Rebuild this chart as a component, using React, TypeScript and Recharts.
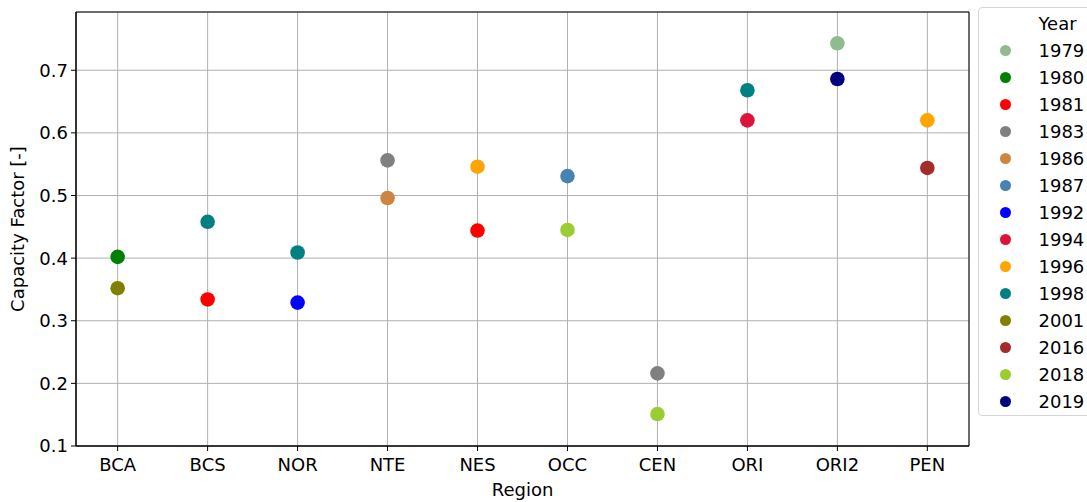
import React from "react";
import {
  ScatterChart, Scatter, XAxis, YAxis, CartesianGrid, Legend, ReferenceArea,
} from "recharts";

const REGIONS = ["BCA", "BCS", "NOR", "NTE", "NES", "OCC", "CEN", "ORI", "ORI2", "PEN"];
const YEARS = [1979, 1980, 1981, 1983, 1986, 1987, 1992, 1994, 1996, 1998, 2001, 2016, 2018, 2019];
const YEAR_COLORS = [
  "#8fbc8f", "#008000", "#ff0000", "#808080", "#cd853f", "#4682b4", "#0000ff",
  "#dc143c", "#ffa500", "#008080", "#808000", "#a52a2a", "#9acd32", "#000080",
];

// one entry per dot
const POINT_REGIONS = [
  "BCA", "BCA", "BCS", "BCS", "NOR", "NOR", "NTE", "NTE", "NES", "NES",
  "OCC", "OCC", "CEN", "CEN", "ORI", "ORI", "ORI2", "ORI2", "PEN", "PEN",
];
const POINT_YEARS = [
  1980, 2001, 1998, 1981, 1998, 1992, 1983, 1986, 1996, 1981,
  1987, 2018, 1983, 2018, 1998, 1994, 1979, 2019, 1996, 2016,
];
const POINT_VALUES = [
  0.402, 0.352, 0.458, 0.334, 0.409, 0.329, 0.556, 0.496, 0.546, 0.444,
  0.531, 0.445, 0.216, 0.151, 0.668, 0.620, 0.743, 0.686, 0.620, 0.544,
];

const Y_TICKS = [0.1, 0.2, 0.3, 0.4, 0.5, 0.6, 0.7];
const X_DOMAIN = [-0.463, 9.463];
const Y_DOMAIN = [0.1, 0.793];

const FONT = "'DejaVu Sans', sans-serif";

function seriesFor(year: number) {
  const out: { x: number; y: number }[] = [];
  POINT_YEARS.forEach((y, i) => {
    if (y === year) out.push({ x: REGIONS.indexOf(POINT_REGIONS[i]), y: POINT_VALUES[i] });
  });
  return out;
}

function YearLegend() {
  return (
    <div style={{
      border: "1px solid #d6d6d6",
      borderRadius: 4,
      background: "#fff",
      height: 409,
      width: 130,
      paddingTop: 1.5,
      boxSizing: "border-box",
      fontFamily: FONT,
      fontSize: 18,
      color: "#000",
    }}>
      <div style={{ height: 27, lineHeight: "27px", paddingLeft: 59.5 }}>Year</div>
      {YEARS.map((yr, i) => (
        <div key={yr} style={{ height: 27, lineHeight: "27px", position: "relative", paddingLeft: 59.5 }}>
          <span style={{
            position: "absolute", left: 20.5, top: 8, width: 11, height: 11,
            borderRadius: "50%", background: YEAR_COLORS[i],
          }} />
          {yr}
        </div>
      ))}
    </div>
  );
}

export default function App() {
  return (
    <div style={{
      position: "absolute", left: 0, top: 0, width: 1087, height: 502,
      overflow: "hidden", background: "#fff", fontFamily: FONT,
    }}>
      <ScatterChart width={1087} height={502} margin={{ top: 12, right: 118, bottom: 16, left: 16 }}>
        <CartesianGrid stroke="#b0b0b0" strokeWidth={1} />
        <XAxis
          type="number"
          dataKey="x"
          domain={X_DOMAIN}
          ticks={REGIONS.map((_, i) => i)}
          interval={0}
          allowDataOverflow
          tickFormatter={(i) => REGIONS[i]}
          height={40}
          tickSize={5}
          tickMargin={7}
          stroke="#000"
          tick={{ fill: "#000", fontSize: 18, fontFamily: FONT }}
          label={{ value: "Region", position: "insideBottom", offset: -10, fill: "#000", fontSize: 18, fontFamily: FONT }}
        />
        <YAxis
          type="number"
          dataKey="y"
          domain={Y_DOMAIN}
          ticks={Y_TICKS}
          interval={0}
          allowDataOverflow
          tickFormatter={(v) => v.toFixed(1)}
          width={60}
          tickSize={5}
          tickMargin={3}
          stroke="#000"
          tick={{ fill: "#000", fontSize: 18, fontFamily: FONT }}
          label={{
            value: "Capacity Factor [-]", angle: -90, position: "insideLeft", offset: 2,
            fill: "#000", fontSize: 18, fontFamily: FONT, style: { textAnchor: "middle" },
          }}
        />
        <ReferenceArea
          x1={X_DOMAIN[0]} x2={X_DOMAIN[1]} y1={Y_DOMAIN[0]} y2={Y_DOMAIN[1]}
          fill="none" stroke="#000" strokeWidth={1} fillOpacity={0}
        />
        {YEARS.map((yr, i) => (
          <Scatter
            key={yr}
            name={String(yr)}
            data={seriesFor(yr)}
            fill={YEAR_COLORS[i]}
            isAnimationActive={false}
            shape={(p: any) => <circle cx={p.cx} cy={p.cy} r={7.3} fill={YEAR_COLORS[i]} />}
          />
        ))}
        <Legend
          layout="vertical"
          align="center"
          verticalAlign="middle"
          content={() => <YearLegend />}
          wrapperStyle={{ left: 978, top: 7, width: 130, height: 409 }}
        />
      </ScatterChart>
    </div>
  );
}
